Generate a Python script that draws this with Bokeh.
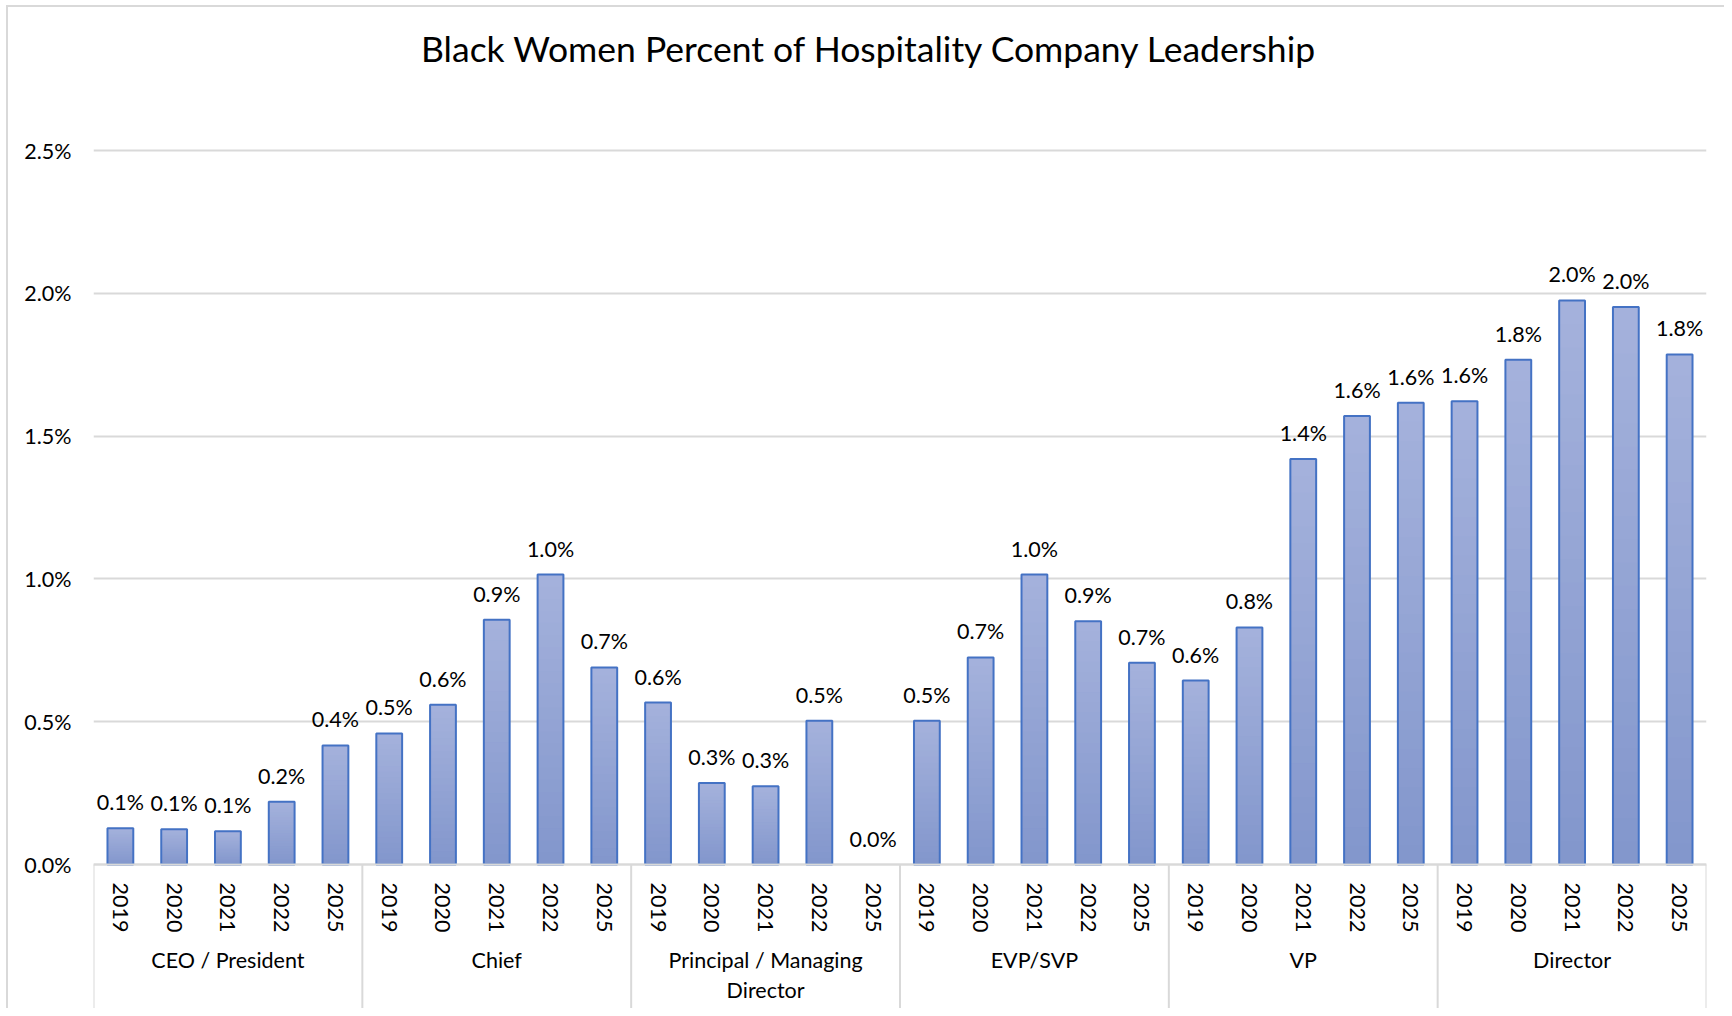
import numpy as np
from bokeh.plotting import figure
from bokeh.models import (ColumnDataSource, FactorRange, Range1d, FixedTicker,
                          PrintfTickFormatter, LabelSet, Label)
from bokeh.core.properties import value
from bokeh.embed import file_html
from bokeh.resources import INLINE

# ---------------- data ----------------
title_text = "Black Women Percent of Hospitality Company Leadership"
groups = ["CEO / President", "Chief", "Principal / Managing\nDirector",
          "EVP/SVP", "VP", "Director"]
years = ["2019", "2020", "2021", "2022", "2025"]
ceo_president = [0.127, 0.123, 0.116, 0.220, 0.417]
chief = [0.459, 0.559, 0.857, 1.015, 0.690]
principal_managing_director = [0.567, 0.285, 0.274, 0.503, 0.0]
evp_svp = [0.503, 0.725, 1.015, 0.852, 0.706]
vp = [0.644, 0.830, 1.420, 1.570, 1.617]
director = [1.622, 1.767, 1.975, 1.952, 1.786]
y_ticks = [0.0, 0.5, 1.0, 1.5, 2.0, 2.5]

series = [ceo_president, chief, principal_managing_director, evp_svp, vp, director]

# ---------------- layout constants (pixels) ----------------
FONT = "Lato"
FS = "21.5px"
W, H = 1724, 1008
BORDER_L, BORDER_R = 93, W - 1706
ZERO_PX = 864          # figure-pixel y of the 0 line
TOP_TICK_PX = 150      # figure-pixel y of the top tick
TITLE_CX, TITLE_CY = 869, 48
ppu = (ZERO_PX - TOP_TICK_PX) / y_ticks[-1]
y_end = ZERO_PX / ppu
y_start = -(H - ZERO_PX) / ppu

factors = [(g, y) for g in groups for y in years]
vals = [v for s in series for v in s]
unit_px = (W - BORDER_R - BORDER_L) / len(factors)

x_range = FactorRange(*factors, group_padding=0, factor_padding=0,
                      subgroup_padding=0, range_padding=0)

p = figure(width=W, height=H, x_range=x_range, y_range=Range1d(y_start, y_end),
           output_backend="svg", toolbar_location=None,
           min_border_left=BORDER_L, min_border_right=BORDER_R,
           min_border_top=0, min_border_bottom=0)
p.outline_line_color = None
p.background_fill_color = None
p.border_fill_color = None
# light grey chart-area border (top and left edges visible in the picture)
p.styles = {
    "background": "linear-gradient(#d9d9d9, #d9d9d9) 6px 5px / 2px 100% no-repeat, "
                  "linear-gradient(#d9d9d9, #d9d9d9) 6px 5px / 100% 2px no-repeat, white",
}

# ---------------- bars with vertical gradient ----------------
N = 24
top_rgb = np.array([0xA5, 0xB2, 0xDC])
bot_rgb = np.array([0x82, 0x96, 0xCC])
sx, sb, st, sc = [], [], [], []
for f, v in zip(factors, vals):
    if v <= 0:
        continue
    for k in range(N):
        t = (k + 0.5) / N
        c = bot_rgb + (top_rgb - bot_rgb) * t
        sx.append(f)
        sb.append(v * k / N)
        st.append(v * min(k + 1.6, N) / N)
        sc.append("#%02x%02x%02x" % tuple(int(round(ci)) for ci in c))
slices = ColumnDataSource(dict(x=sx, bottom=sb, top=st, color=sc))
BAR_W = 0.48
p.vbar(x="x", bottom="bottom", top="top", width=BAR_W, source=slices,
       fill_color="color", line_color=None)

nz = [i for i, v in enumerate(vals) if v > 0]
outline = ColumnDataSource(dict(x=[factors[i] for i in nz], top=[vals[i] for i in nz]))
p.vbar(x="x", top="top", bottom=0, width=BAR_W, source=outline,
       fill_color=None, line_color="#4472C4", line_width=2)

src = ColumnDataSource(dict(x=factors, top=vals,
                            label=[f"{v:.1f}%" for v in vals]))
labels = LabelSet(x="x", y="top", text="label", source=src,
                  text_align="center", text_baseline="alphabetic", y_offset=18,
                  text_font=value(FONT), text_font_size=value(FS),
                  text_color="black")
p.add_layout(labels)

# ---------------- group separators below the axis ----------------
bounds = [i * len(years) for i in range(len(groups) + 1)]
p.segment(x0=bounds, x1=bounds, y0=[0] * len(bounds), y1=[y_start] * len(bounds),
          line_color="#d9d9d9", line_width=2)

# ---------------- axes ----------------
p.yaxis.ticker = FixedTicker(ticks=y_ticks)
p.yaxis.formatter = PrintfTickFormatter(format="%.1f%%")
p.yaxis.axis_line_color = None
p.yaxis.major_tick_line_color = None
p.yaxis.minor_tick_line_color = None
p.yaxis.major_tick_out = 0
p.yaxis.major_label_standoff = 22
p.yaxis.major_label_text_font = FONT
p.yaxis.major_label_text_font_size = FS
p.yaxis.major_label_text_color = "black"

p.ygrid.ticker = FixedTicker(ticks=y_ticks)
p.ygrid.grid_line_color = "#d9d9d9"
p.ygrid.grid_line_width = 2
p.xgrid.grid_line_color = None

xa = p.xaxis[0]
xa.fixed_location = 0
xa.axis_line_color = "#d9d9d9"
xa.axis_line_width = 2
xa.major_tick_line_color = None
xa.minor_tick_line_color = None
xa.separator_line_color = None
xa.major_label_orientation = -np.pi / 2
xa.major_label_standoff = 12
xa.major_label_text_font = FONT
xa.major_label_text_font_size = FS
xa.major_label_text_color = "black"
xa.group_text_font = FONT
xa.group_text_font_size = FS
xa.group_text_font_style = "normal"
xa.group_text_color = "black"
xa.group_text_line_height = 1.15
xa.group_label_orientation = "horizontal"

# ---------------- title ----------------
title = Label(x=(TITLE_CX - BORDER_L) / unit_px, y=(ZERO_PX - TITLE_CY) / ppu,
              text=title_text, text_align="center", text_baseline="middle",
              text_font=FONT, text_font_size="35.5px", text_color="black")
p.add_layout(title)

open("out.html", "w").write(file_html(p, INLINE))
